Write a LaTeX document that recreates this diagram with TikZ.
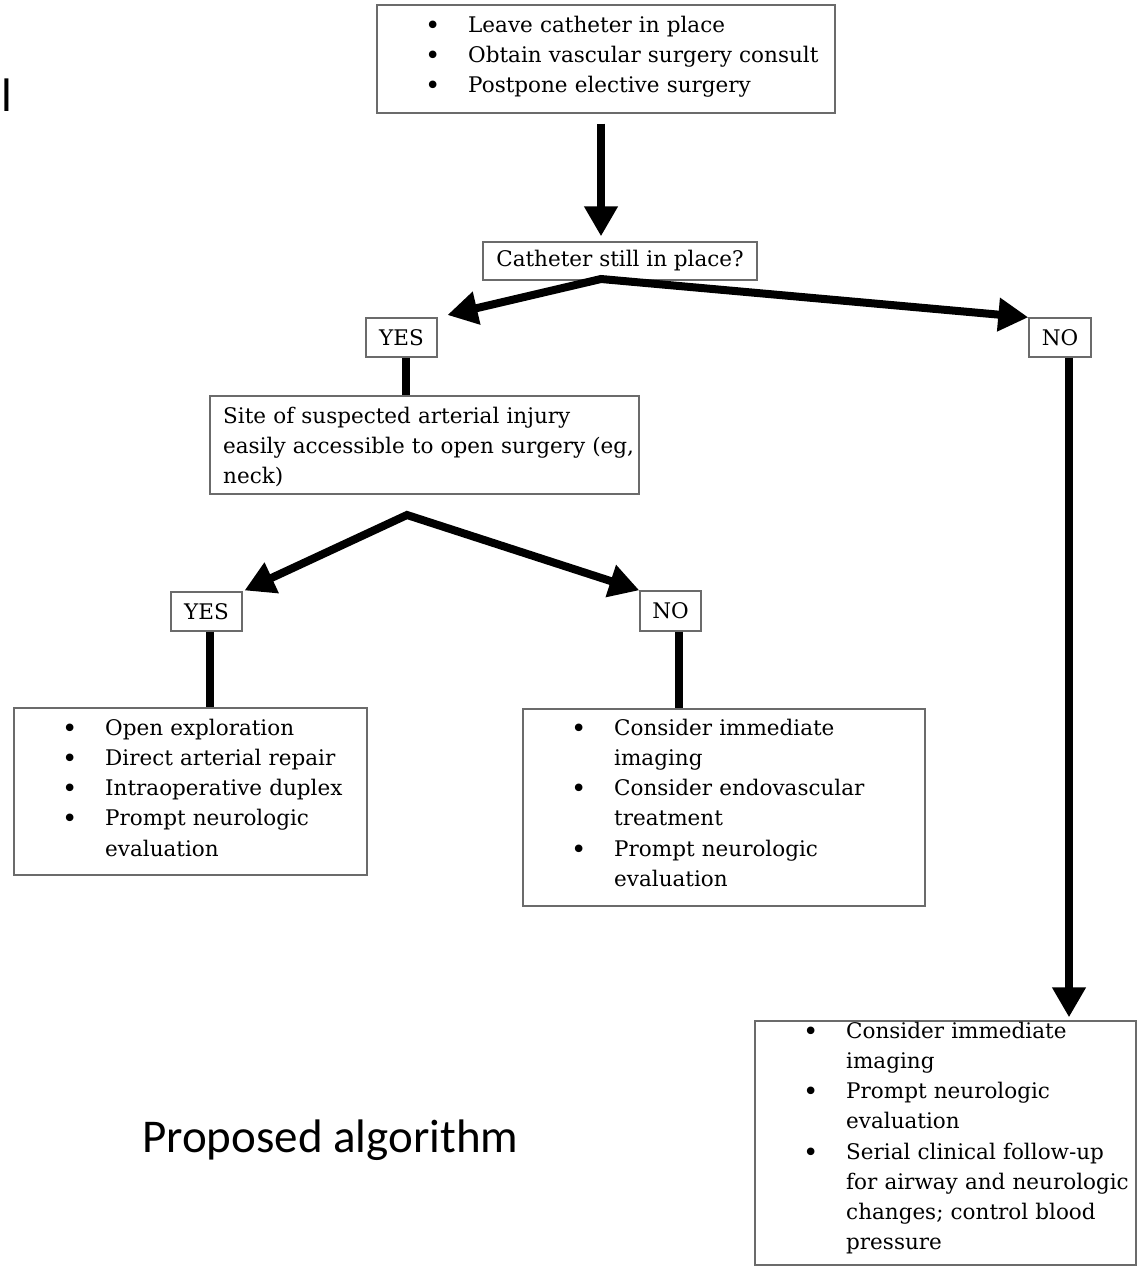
\documentclass[tikz,border=0pt]{standalone}
\usepackage{fontspec}
\setmainfont{DejaVu Serif}
\newfontfamily\carlfont{Carlito}
\usetikzlibrary{arrows.meta,calc}
\newcommand\bitem{\hspace*{48pt}\makebox[43pt][l]{\raisebox{-2pt}{\fontsize{26}{26}\selectfont\textbullet}}}
\newcommand\bcont{\hspace*{91pt}}
\newcommand\frst{\rule{0pt}{17pt}}
\begin{document}
\begin{tikzpicture}[x=1pt,y=-1pt,
  box/.style={draw=black!58, line width=1.4pt, inner sep=0pt},
  txt/.style={anchor=north west, inner sep=0pt, align=left, text width=450pt,
              font=\fontsize{21.5}{30.2}\selectfont},
  lbl/.style={box, align=center, font=\fontsize{21.5}{26}\selectfont},
  conn/.style={line width=8pt},
  bigarrow/.style={line width=8pt, -{Triangle[width=32pt,length=30pt]}},
  twoarrow/.style={line width=8pt, line join=miter,
     {Triangle[width=32pt,length=30pt]}-{Triangle[width=32pt,length=30pt]}},
  big/.style={inner sep=0pt, anchor=base west, font=\carlfont\fontsize{47}{52}\selectfont}]
\useasboundingbox (0,0) rectangle (1138,1268);

% boxes
\node[box, minimum width=458pt, minimum height=108pt] (topbox) at (606,59) {};
\node[txt] (toptext) at (377,15) {\frst\bitem Leave catheter in place\\
  \bitem Obtain vascular surgery consult\\
  \bitem Postpone elective surgery};

\node[lbl, minimum width=274pt, minimum height=38pt] (cath) at (620,261) {Catheter still in place?};
\node[lbl, minimum width=71pt, minimum height=39pt] (yes1) at (401.5,337.5) {YES};
\node[lbl, minimum width=62pt, minimum height=39pt] (no1) at (1060,337.5) {NO};

\node[box, minimum width=429pt, minimum height=98pt] (site) at (424.5,445) {};
\node[txt] (sitetext) at (223,406) {\frst Site of suspected arterial injury\\
  easily accessible to open surgery (eg,\\
  neck)};

\node[lbl, minimum width=71pt, minimum height=39pt] (yes2) at (206.5,611.5) {YES};
\node[lbl, minimum width=61pt, minimum height=40pt] (no2) at (670.5,611) {NO};

\node[box, minimum width=353pt, minimum height=167pt] (leftbox) at (190.5,791.5) {};
\node[txt] (lefttext) at (14,718) {\frst\bitem Open exploration\\
  \bitem Direct arterial repair\\
  \bitem Intraoperative duplex\\
  \bitem Prompt neurologic\\
  \bcont evaluation};

\node[box, minimum width=402pt, minimum height=197pt] (midbox) at (724,807.5) {};
\node[txt] (midtext) at (523,718) {\frst\bitem Consider immediate\\
  \bcont imaging\\
  \bitem Consider endovascular\\
  \bcont treatment\\
  \bitem Prompt neurologic\\
  \bcont evaluation};

\node[box, minimum width=381pt, minimum height=244pt] (brbox) at (945.5,1143) {};
\node[txt] (brtext) at (755,1021) {\frst\bitem Consider immediate\\
  \bcont imaging\\
  \bitem Prompt neurologic\\
  \bcont evaluation\\
  \bitem Serial clinical follow-up\\
  \bcont for airway and neurologic\\
  \bcont changes; control blood\\
  \bcont pressure};

\node[big] (lchar) at (1,112) {l};
\node[big] (caption) at (142,1152) {Proposed algorithm};

% connectors
\coordinate (ap1) at (601,279);
\coordinate (ap2) at (407,515);
\draw[bigarrow, shorten <=10pt, shorten >=5pt] (topbox.south -| ap1) -- (cath.north -| ap1);
\draw[twoarrow, shorten <=10pt] (yes1.north east) -- (ap1) -- (no1.north west);
\draw[twoarrow, shorten <=2pt] (yes2.north east) -- (ap2) -- (no2.north west);

\coordinate (v1) at ($(yes1.south)+(4.5,0)$);
\coordinate (v2) at ($(yes2.south)+(3.5,0)$);
\coordinate (v3) at ($(no2.south)+(8.5,0)$);
\coordinate (v4) at ($(no1.south)+(9,0)$);
\draw[conn] (v1) -- (v1 |- site.north);
\draw[conn] (v2) -- (v2 |- leftbox.north);
\draw[conn] (v3) -- (v3 |- midbox.north);
\draw[bigarrow, shorten >=3pt] (v4) -- (v4 |- brbox.north);
\end{tikzpicture}
\end{document}
